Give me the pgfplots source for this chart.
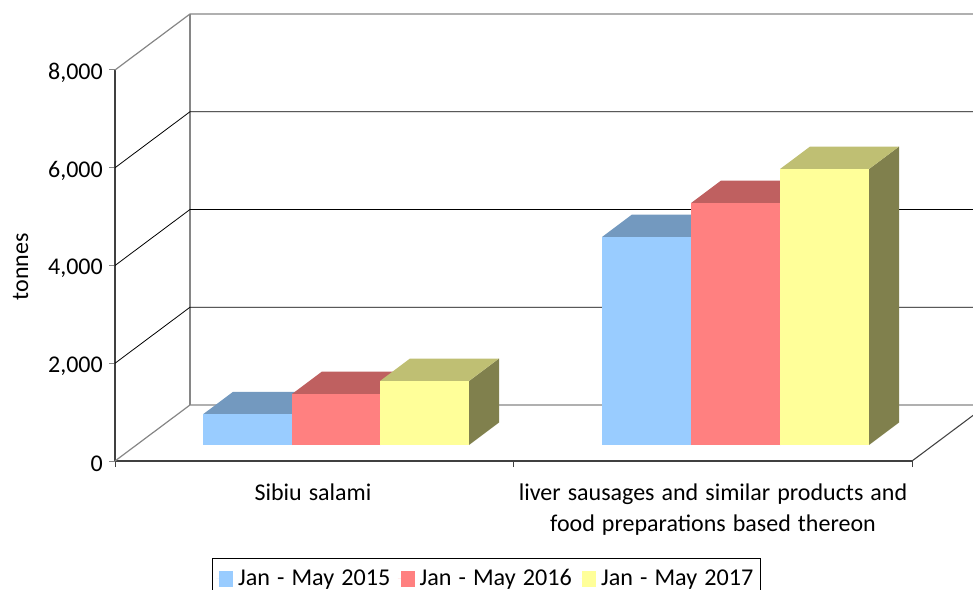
\documentclass[border=0pt]{standalone}
\usepackage{fontspec}
\setmainfont{Carlito}[WordSpace=1.3]
\usepackage{pgfplots}
\pgfplotsset{compat=1.18}
\definecolor{cA}{HTML}{99CCFF}\definecolor{cAt}{HTML}{7399BF}\definecolor{cAs}{HTML}{4D6680}
\definecolor{cB}{HTML}{FF8080}\definecolor{cBt}{HTML}{BF6060}\definecolor{cBs}{HTML}{804040}
\definecolor{cC}{HTML}{FFFF99}\definecolor{cCt}{HTML}{BFBF73}\definecolor{cCs}{HTML}{80804D}
\definecolor{axdark}{HTML}{404040}
\definecolor{wallgray}{HTML}{868686}
\begin{document}
\fontsize{18}{23.25}\selectfont
\begin{tikzpicture}
\path[use as bounding box] (0,0) rectangle (729.75pt,441.75pt);
\clip (0,0) rectangle (729.75pt,441.75pt);
\begin{axis}[
  at={(86.25pt,96pt)}, anchor=south west,
  scale only axis, width=597.75pt, height=293.25pt,
  xmin=0, xmax=797, ymin=0, ymax=8000,
  clip=false,
  axis x line*=bottom, axis y line*=left,
  axis line style={draw=axdark, line width=1.1pt, -},
  tick align=outside,
  xtick={198,598},
  xticklabels={{\begin{tabular}{@{}c@{}}Sibiu salami\end{tabular}},{\begin{tabular}{@{}c@{}}liver sausages and similar products and\\food preparations based thereon\end{tabular}}},
  major x tick style={draw=none},
  minor xtick={0,398,797},
  minor tick length=4.5pt,
  minor x tick style={draw=axdark,line width=0.75pt},
  xticklabel style={font=\fontsize{18}{23.25}\selectfont, anchor=north, yshift=-3pt},
  ytick={0,2000,4000,6000,8000},
  major tick length=4.5pt,
  major y tick style={draw=wallgray,line width=0.75pt},
  yticklabel style={font=\fontsize{18}{23.25}\selectfont, xshift=1.5pt, yshift=-2.25pt, /pgf/number format/.cd, 1000 sep={,}, assume math mode=true},
  ylabel={tonnes},
  ylabel style={font=\fontsize{18}{23.25}\selectfont, at={(axis description cs:-0.1185,0.497)}, anchor=center},
  bar3d/.style={draw=none, yshift=12pt, forget plot},
  wall/.style={draw=wallgray, line width=0.9pt, forget plot, mark=none},
  grid3d/.style={draw=black, line width=0.6pt, forget plot, mark=none},
  legend columns=3,
  legend style={
    at={(0.1217,-0.248)}, anchor=north west,
    draw=black, line width=0.6pt, fill=white,
    font=\fontsize{18.1}{23.25}\selectfont,
    inner xsep=3pt, inner ysep=6pt,
    /tikz/every even column/.append style={column sep=3.75pt},
    /tikz/every odd column/.append style={column sep=1.5pt},
    cells={anchor=west},
  },
  legend image code/.code={\path (0pt,0pt) -- (2.25pt,0pt); \fill[#1] (2.25pt,-6pt) rectangle (12.75pt,6pt);},
]
% walls and floor
\addplot[wall] coordinates {(75,1146) (75,9146)};
\addplot[wall] coordinates {(0,8000) (75,9146) (872,9146)};
\addplot[grid3d] coordinates {(0,2000) (75,3146) (872,3146)};
\addplot[grid3d] coordinates {(0,4000) (75,5146) (872,5146)};
\addplot[grid3d] coordinates {(0,6000) (75,7146) (872,7146)};
\addplot[wall] coordinates {(0,0) (75,1146) (872,1146)};
\addplot[grid3d, draw=axdark, line width=0.8pt] coordinates {(797,0) (872,1146)};
% Sibiu salami
\addplot[bar3d, fill=cAs] coordinates {(177,0) (207,460) (207,1088) (177,628)};
\addplot[bar3d, fill=cAt] coordinates {(88,628) (177,628) (207,1088) (118,1088)};
\addplot[bar3d, fill=cA]  coordinates {(88,0) (177,0) (177,628) (88,628)};
\addplot[bar3d, fill=cBs] coordinates {(265,0) (295,460) (295,1503) (265,1043)};
\addplot[bar3d, fill=cBt] coordinates {(177,1043) (265,1043) (295,1503) (207,1503)};
\addplot[bar3d, fill=cB]  coordinates {(177,0) (265,0) (265,1043) (177,1043)};
\addplot[bar3d, fill=cCs] coordinates {(354,0) (384,460) (384,1769) (354,1309)};
\addplot[bar3d, fill=cCt] coordinates {(265,1309) (354,1309) (384,1769) (295,1769)};
\addplot[bar3d, fill=cC]  coordinates {(265,0) (354,0) (354,1309) (265,1309)};
% liver sausages
\addplot[bar3d, fill=cAs] coordinates {(576,0) (606,460) (606,4715) (576,4255)};
\addplot[bar3d, fill=cAt] coordinates {(487,4255) (576,4255) (606,4715) (517,4715)};
\addplot[bar3d, fill=cA]  coordinates {(487,0) (576,0) (576,4255) (487,4255)};
\addplot[bar3d, fill=cBs] coordinates {(665,0) (695,460) (695,5410) (665,4950)};
\addplot[bar3d, fill=cBt] coordinates {(576,4950) (665,4950) (695,5410) (606,5410)};
\addplot[bar3d, fill=cB]  coordinates {(576,0) (665,0) (665,4950) (576,4950)};
\addplot[bar3d, fill=cCs] coordinates {(754,0) (784,460) (784,6106) (754,5646)};
\addplot[bar3d, fill=cCt] coordinates {(665,5646) (754,5646) (784,6106) (695,6106)};
\addplot[bar3d, fill=cC]  coordinates {(665,0) (754,0) (754,5646) (665,5646)};
% legend
\addlegendimage{fill=cA, draw=none}
\addlegendentry{Jan - May 2015}
\addlegendimage{fill=cB, draw=none}
\addlegendentry{Jan - May 2016}
\addlegendimage{fill=cC, draw=none}
\addlegendentry{Jan - May 2017}
\end{axis}
\end{tikzpicture}
\end{document}
